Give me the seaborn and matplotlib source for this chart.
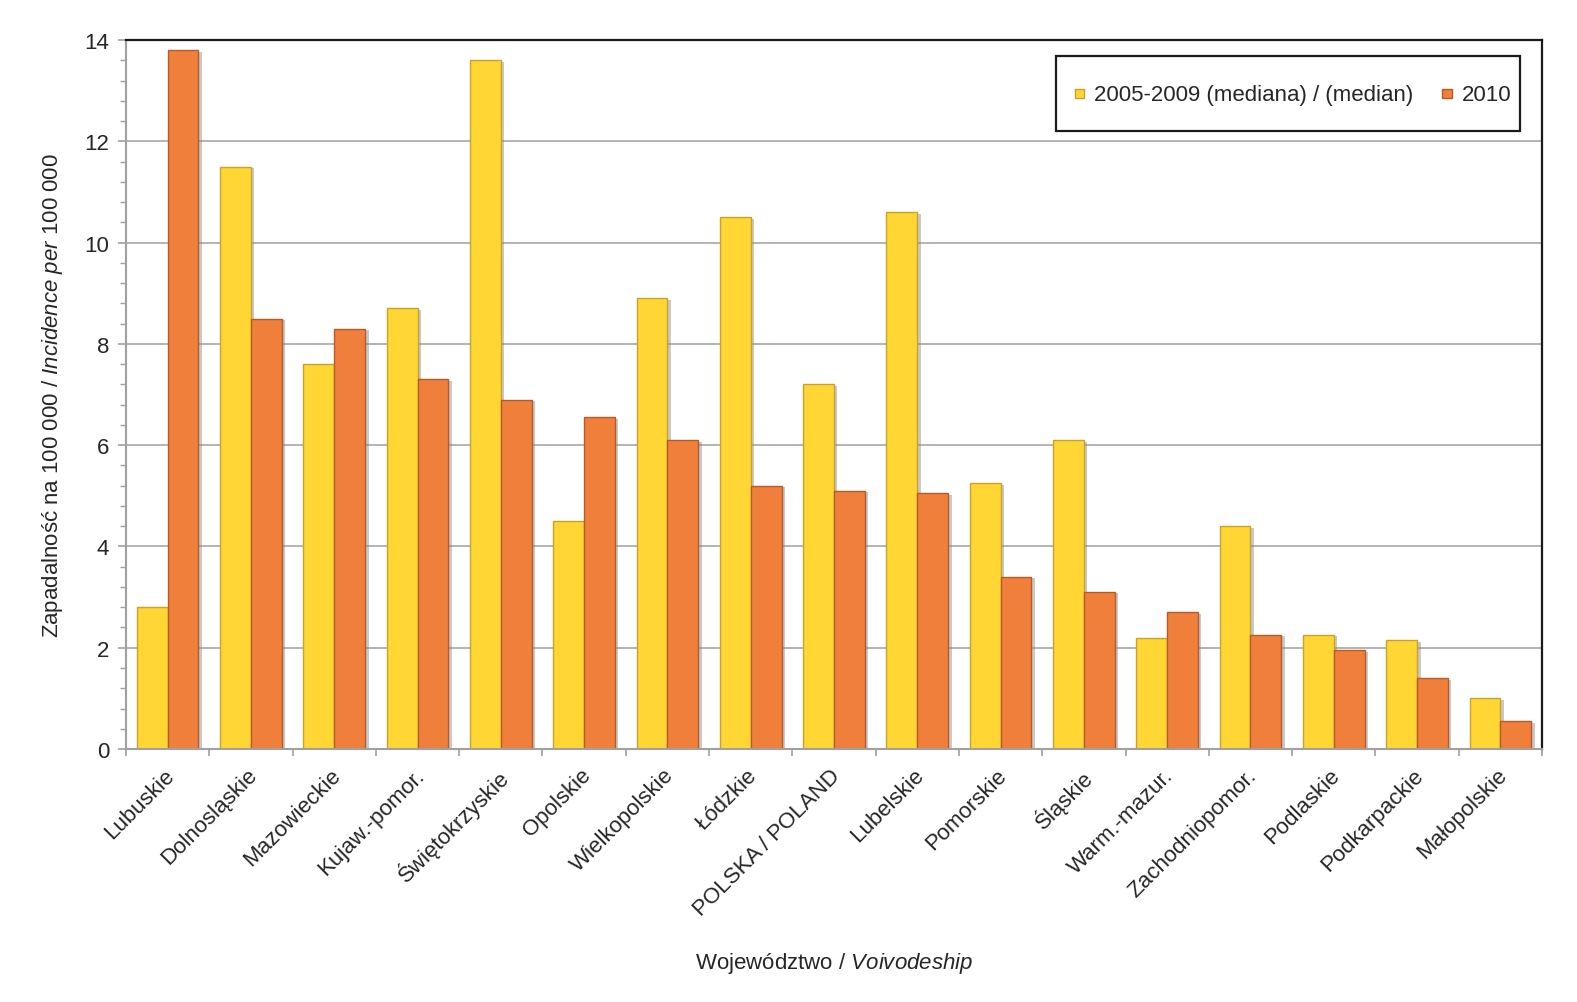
import matplotlib
matplotlib.use("Agg")
import matplotlib.pyplot as plt
import matplotlib.patheffects as pe
from matplotlib.patches import Patch, Rectangle
from matplotlib.legend_handler import HandlerPatch
from matplotlib.ticker import MultipleLocator, FixedLocator
from matplotlib.transforms import ScaledTranslation
import pandas as pd
import seaborn as sns

# Data
voivodeships = ["Lubuskie", "Dolnosląskie", "Mazowieckie", "Kujaw.-pomor.",
                "Świętokrzyskie", "Opolskie", "Wielkopolskie", "Łódzkie",
                "POLSKA / POLAND", "Lubelskie", "Pomorskie", "Śląskie",
                "Warm.-mazur.", "Zachodniopomor.", "Podlaskie", "Podkarpackie",
                "Małopolskie"]
median_2005_2009 = [2.8, 11.5, 7.6, 8.7, 13.6, 4.5, 8.9, 10.5, 7.2, 10.6,
                    5.25, 6.1, 2.2, 4.4, 2.25, 2.15, 1.0]
incidence_2010 = [13.8, 8.5, 8.3, 7.3, 6.9, 6.55, 6.1, 5.2, 5.1, 5.05,
                  3.4, 3.1, 2.7, 2.25, 1.95, 1.4, 0.55]
series_names = ["2005-2009 (mediana) / (median)", "2010"]
series_colors = ["#FFD634", "#F07F3C"]
series_edges = ["#C9A22A", "#B85A28"]

df = pd.DataFrame({
    "woj": voivodeships * 2,
    "value": median_2005_2009 + incidence_2010,
    "series": [series_names[0]] * len(voivodeships) + [series_names[1]] * len(voivodeships),
})

FS = 16

sns.set_style("white")
plt.rcParams["font.family"] = ["Liberation Sans", "DejaVu Sans"]
plt.rcParams["mathtext.fontset"] = "custom"
plt.rcParams["mathtext.rm"] = "Liberation Sans"
plt.rcParams["mathtext.it"] = "Liberation Sans:italic"

fig, ax = plt.subplots(figsize=(15.77, 10.03), dpi=100)
fig.subplots_adjust(left=0.0799, right=0.9778, top=0.9591, bottom=0.2522)

sns.barplot(data=df, x="woj", y="value", hue="series", hue_order=series_names,
            palette=series_colors, width=0.74, dodge=True, ax=ax,
            errorbar=None, legend=False, saturation=1)

# colour edges + soft shadow for the 3D-ish look
for container, edge in zip(ax.containers, series_edges):
    for bar in container:
        bar.set_edgecolor(edge)
        bar.set_linewidth(1.0)
        bar.set_path_effects([pe.SimplePatchShadow(offset=(2.5, -1), shadow_rgbFace="#888888", alpha=0.45),
                              pe.Normal()])

ax.set_ylim(0, 14)
ax.set_xlim(-0.5, len(voivodeships) - 0.5)
ax.yaxis.set_major_locator(MultipleLocator(2))
ax.yaxis.set_minor_locator(MultipleLocator(0.4))
ax.xaxis.set_minor_locator(FixedLocator([i - 0.5 for i in range(len(voivodeships) + 1)]))
ax.grid(axis="y", which="major", color="#A0A0A0", linewidth=1.1)
ax.set_axisbelow(True)

for side in ["left", "bottom"]:
    ax.spines[side].set_color("#A0A0A0")
    ax.spines[side].set_linewidth(1.5)
for side in ["top", "right"]:
    ax.spines[side].set_color("#1a1a1a")
    ax.spines[side].set_linewidth(1.6)

ax.tick_params(axis="y", which="major", length=6, width=1.2, color="#A0A0A0",
               labelsize=FS, pad=6, left=True)
ax.tick_params(axis="y", which="minor", length=4.5, width=1.0, color="#A0A0A0", left=True)
ax.tick_params(axis="x", which="major", length=0, labelsize=FS, pad=11)
ax.tick_params(axis="x", which="minor", length=5, width=1.2, color="#A0A0A0", bottom=True)

ax.set_xticks(range(len(voivodeships)))
ax.set_xticklabels(voivodeships, rotation=45, ha="right", va="top", rotation_mode="anchor")
shift = ScaledTranslation(-3 / 72, 0, fig.dpi_scale_trans)
for lab in ax.get_xticklabels():
    lab.set_transform(lab.get_transform() + shift)

ax.set_xlabel(r"Województwo / $\it{Voivodeship}$", fontsize=FS, labelpad=22)
ax.set_ylabel(r"Zapadalność na 100 000 / $\it{Incidence\ per\ 100\ 000}$", fontsize=FS, labelpad=14)


# small square legend keys inside a taller legend row
def small_square(legend, orig_handle, xdescent, ydescent, width, height, fontsize):
    s = 0.42 * fontsize
    return Rectangle((-xdescent + width - s, -ydescent + (height - s) / 2), s, s)


handles = [Patch(facecolor=c, edgecolor=e) for c, e in zip(series_colors, series_edges)]
leg = ax.legend(handles, series_names, loc="upper right", bbox_to_anchor=(0.9845, 0.9774),
                borderaxespad=0, ncol=2, fontsize=FS, handlelength=0.86, handleheight=3.57,
                handletextpad=0.45, columnspacing=0.85, borderpad=0.4, fancybox=False,
                framealpha=1, edgecolor="#1a1a1a",
                handler_map={Patch: HandlerPatch(patch_func=small_square)})
leg.get_frame().set_linewidth(1.6)

fig.savefig("out.png", dpi=100)
